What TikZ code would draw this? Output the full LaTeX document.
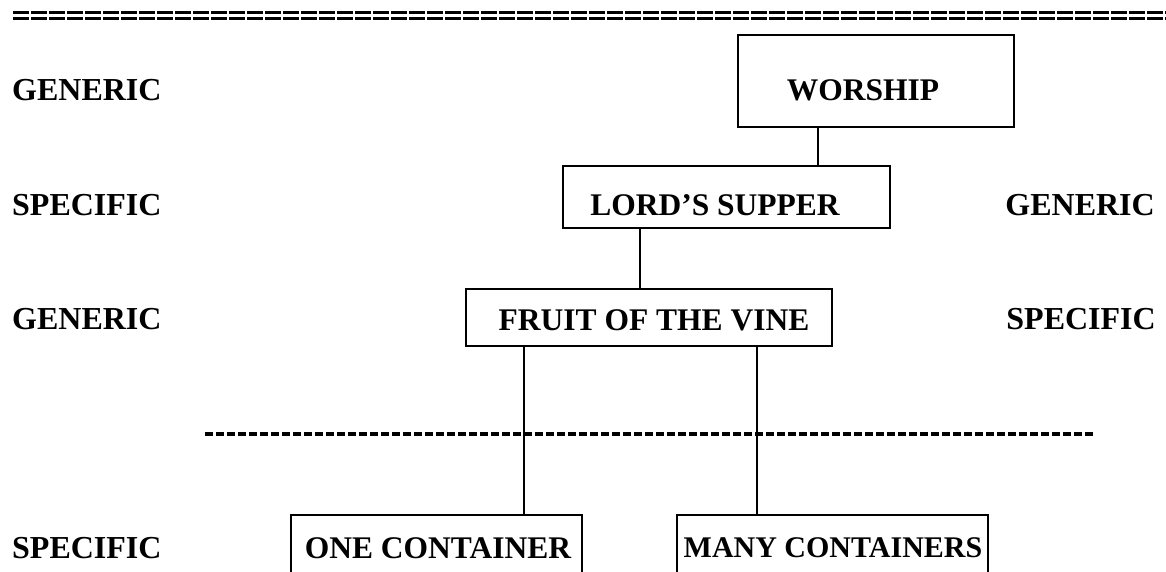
\documentclass[tikz,border=0pt]{standalone}
\usepackage{fontspec}
\setmainfont{Liberation Serif}
\begin{document}
\begin{tikzpicture}[x=1pt,y=-1pt,
  lbl/.style={font=\bfseries\fontsize{32}{35}\selectfont, inner sep=0pt},
  boxnode/.style={draw, line width=2pt, inner sep=0pt},
  conn/.style={line width=2pt},
  txt/.style={font=\bfseries\fontsize{31.5}{34}\selectfont, inner sep=0pt}]
\useasboundingbox (0,0) rectangle (1166,572);
% top double dashed rule
\draw[line width=2.4pt, dash pattern=on 15.5pt off 2.5pt] (13,12.5) -- (1166,12.5);
\draw[line width=2.4pt, dash pattern=on 15.5pt off 2.5pt] (13,18.5) -- (1166,18.5);
% left labels
\node[lbl, anchor=west] (l1) at (12,90) {GENERIC};
\node[lbl, anchor=west] (l2) at (12,205) {SPECIFIC};
\node[lbl, anchor=west] (l3) at (12,319) {GENERIC};
\node[lbl, anchor=west] (l4) at (12,548) {SPECIFIC};
% right labels
\node[lbl, anchor=east] (r1) at (1155,205) {GENERIC};
\node[lbl, anchor=east] (r2) at (1156,319) {SPECIFIC};
% boxes
\node[boxnode, minimum width=276pt, minimum height=92pt] (ws) at (876,81) {};
\node[txt] (wst) at (863,90) {WORSHIP};
\node[boxnode, minimum width=327pt, minimum height=62pt] (ls) at (726.5,197) {};
\node[txt] (lst) at (715,205) {LORD'S SUPPER};
\node[boxnode, minimum width=366pt, minimum height=57pt] (fv) at (649,317.5) {};
\node[txt] (fvt) at (654,320) {FRUIT OF THE VINE};
% bottom open boxes
\node[txt] (oc) at (438,548) {ONE CONTAINER};
\node[txt, font=\bfseries\fontsize{30}{34}\selectfont] (mc) at (833,548) {MANY CONTAINERS};
\coordinate (octop) at (524,515);
\coordinate (mctop) at (757,515);
\draw[conn] (291,572) -- (291,515) -- (582,515) -- (582,572);
\draw[conn] (677,572) -- (677,515) -- (988,515) -- (988,572);
% connectors
\draw[conn] (ws.south -| 818,0) -- (ls.north -| 818,0);
\draw[conn] (ls.south -| 640,0) -- (fv.north -| 640,0);
\draw[conn] (fv.south -| octop) -- (octop);
\draw[conn] (fv.south -| mctop) -- (mctop);
% dashed separator
\draw[line width=3.2pt, dash pattern=on 7.5pt off 3.5pt] (205,434) -- (1093,434);
\end{tikzpicture}
\end{document}
